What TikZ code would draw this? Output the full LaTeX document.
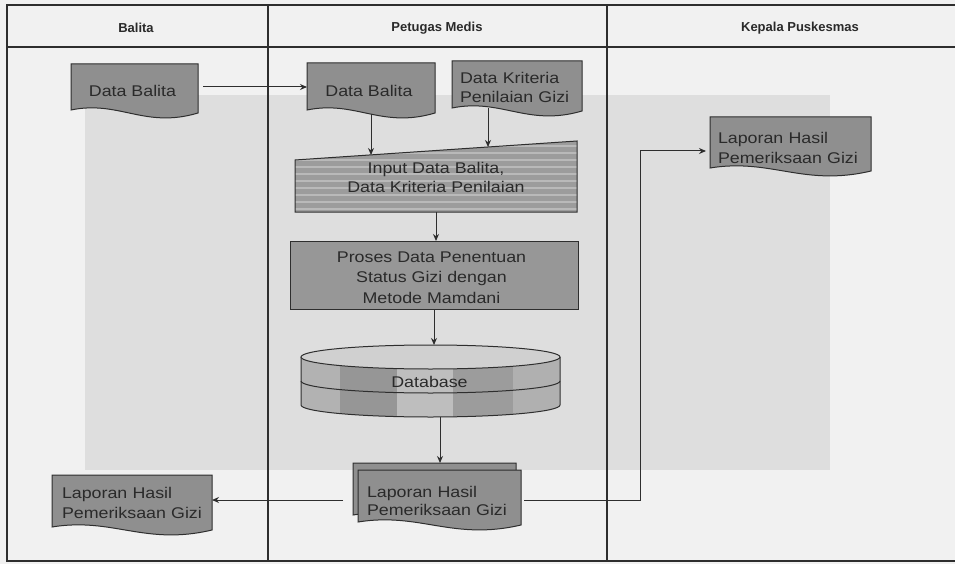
\documentclass[tikz,border=0pt]{standalone}
\usepackage{fontspec}
\setmainfont{Liberation Sans}[FakeStretch=1.15]
\newfontfamily\hdfont{Liberation Sans}
\usetikzlibrary{calc,arrows.meta}
\pgfdeclarelayer{back}
\pgfdeclarelayer{bg}
\pgfsetlayers{back,bg,main}
\definecolor{pagebg}{HTML}{F1F1F1}
\definecolor{blockbg}{HTML}{DEDEDE}
\definecolor{shapefill}{HTML}{8F8F8F}
\definecolor{procfill}{HTML}{979797}
\definecolor{inpfill}{HTML}{9C9C9C}
\definecolor{stripec}{HTML}{B9B9B9}
\definecolor{linec}{HTML}{2E2E2E}
\definecolor{txtc}{HTML}{2A2A2A}
\tikzset{
  lane/.style={draw=linec, line width=1.6pt},
  slot/.style={draw=none, fill=none, inner sep=0pt, outer sep=0pt},
  boxtxt/.style={font=\fontsize{15.5}{18.5}\selectfont, text=txtc, inner sep=0pt},
  hdtxt/.style={font=\hdfont\bfseries\fontsize{13}{15}\selectfont, text=txtc, inner sep=0pt},
  arr/.style={draw=linec, line width=1pt, -{Stealth[length=7pt,width=6pt]}},
  shp/.style={fill=shapefill, draw=linec, line width=1pt},
  outl/.style={draw=linec, line width=1pt},
  stripe/.style={draw=stripec, line width=2.4pt},
}
% document shape around a node, with an offset
\newcommand\docshape[2]{%
  \path[shp] ($(#1.north west)+(#2)$) -- ($(#1.north east)+(#2)$) --
    ($(#1.south east)+(#2)+(0,3)$) .. controls
    ($(#1.south east)!0.42!(#1.south west)+(#2)+(0,19)$) and
    ($(#1.south east)!0.62!(#1.south west)+(#2)+(0,-10)$) ..
    ($(#1.south west)+(#2)$) -- cycle;}
\begin{document}
\begin{tikzpicture}[x=1pt,y=-1pt]
\useasboundingbox (0,0) rectangle (955,564);
\begin{pgfonlayer}{back}
\fill[pagebg] (0,0) rectangle (955,564);
\fill[blockbg] (85,95) rectangle (830,470);
% swimlanes
\draw[lane] (955,5) -- (7,5) -- (7,561) -- (955,561);
\draw[lane] (7,47) -- (955,47);
\draw[lane] (268,5) -- (268,561);
\draw[lane] (607,5) -- (607,561);
\end{pgfonlayer}
\node[hdtxt] (hA) at (136,28) {Balita};
\node[hdtxt] (hB) at (437,28) {Petugas Medis};
\node[hdtxt] (hC) at (800,28) {Kepala Puskesmas};

% nodes
\node[slot, minimum width=127pt, minimum height=46pt,
  label={[boxtxt, xshift=-2pt, yshift=-4pt]center:Data Balita}] (dbA) at (134.5,87) {};
\node[slot, minimum width=128pt, minimum height=47pt,
  label={[boxtxt, xshift=-2pt, yshift=-4.5pt]center:Data Balita}] (dbB) at (371,86.5) {};
\node[slot, minimum width=130pt, minimum height=47pt,
  label={[boxtxt, text width=114pt, align=left, yshift=-3pt]center:{Data Kriteria\\Penilaian Gizi}}] (dk) at (517,84.5) {};
\node[slot, minimum width=282pt, minimum height=71pt,
  label={[boxtxt, align=center, yshift=-1pt]center:{Input Data Balita,\\Data Kriteria Penilaian}}] (inp) at (436,176.5) {};
\node[slot, minimum width=288pt, minimum height=68pt,
  label={[boxtxt, align=center, xshift=-2.5pt, yshift=-2.5pt, font=\fontsize{15.5}{20.5}\selectfont]center:{Proses Data Penentuan\\Status Gizi dengan\\Metode Mamdani}}] (proc) at (434,275) {};
\node[slot, minimum width=259pt, minimum height=72pt,
  label={[boxtxt, xshift=-1pt, yshift=-1pt]center:Database}] (db) at (430.5,381) {};
\node[slot, minimum width=163pt, minimum height=52pt,
  label={[boxtxt, text width=145pt, align=left, yshift=-5pt]center:{Laporan Hasil\\Pemeriksaan Gizi}}] (lapP) at (439.5,496) {};
\node[slot, minimum width=160pt, minimum height=52pt,
  label={[boxtxt, text width=140pt, align=left, yshift=-2pt, font=\fontsize{15.5}{20}\selectfont]center:{Laporan Hasil\\Pemeriksaan Gizi}}] (lapA) at (132,501) {};
\node[slot, minimum width=161pt, minimum height=51pt,
  label={[boxtxt, text width=145pt, align=left, yshift=-5.5pt, font=\fontsize{15.5}{20}\selectfont]center:{Laporan Hasil\\Pemeriksaan Gizi}}] (lapK) at (790.5,142.5) {};

% shapes on background layer
\begin{pgfonlayer}{bg}
  \docshape{dbA}{0,0}
  \docshape{dbB}{0,0}
  \docshape{dk}{0,0}
  \docshape{lapA}{0,0}
  \docshape{lapK}{0,0}
  \docshape{lapP}{-5,-7}
  \docshape{lapP}{0,0}
  % manual input
  \begin{scope}
    \path[clip] ($(inp.north west)+(0,19)$) -- (inp.north east) -- (inp.south east) -- (inp.south west) -- cycle;
    \fill[inpfill] (inp.north west) rectangle (inp.south east);
    \foreach \yy in {146,153,...,212} \draw[stripe] (295,\yy) -- (577,\yy);
  \end{scope}
  \draw[outl] ($(inp.north west)+(0,19)$) -- (inp.north east) -- (inp.south east) -- (inp.south west) -- cycle;
  % process
  \path[outl, fill=procfill] (proc.north west) rectangle (proc.south east);
  % database cylinder
  \begin{scope}
    \path[clip] (301,357) -- (301,405) arc[start angle=180, end angle=360, x radius=129.5pt, y radius=12pt] -- (560,357) -- cycle;
    \fill[fill={rgb,255:red,178;green,178;blue,178}] (301,340) rectangle (340,420);
    \fill[fill={rgb,255:red,150;green,150;blue,150}] (340,340) rectangle (397,420);
    \fill[fill={rgb,255:red,190;green,190;blue,190}] (397,340) rectangle (453,420);
    \fill[fill={rgb,255:red,156;green,156;blue,156}] (453,340) rectangle (513,420);
    \fill[fill={rgb,255:red,176;green,176;blue,176}] (513,340) rectangle (560,420);
  \end{scope}
  \draw[outl] (301,357) -- (301,405) arc[start angle=180, end angle=360, x radius=129.5pt, y radius=12pt] -- (560,357);
  \draw[outl] (301,381) arc[start angle=180, end angle=360, x radius=129.5pt, y radius=12pt];
  \draw[outl, fill={rgb,255:red,208;green,208;blue,208}] (430.5,357) ellipse [x radius=129.5pt, y radius=12pt];
\end{pgfonlayer}

% connectors
\coordinate (inpA) at (371,155);
\coordinate (inpB) at (488,147);
\coordinate (lapPtop) at (440,463);
\coordinate (lapPL) at ($(lapP.west)+(-15,4)$);
\coordinate (lapPR) at ($(lapP.east)+(3,4)$);
\coordinate (lapKL) at ($(lapK.west)+(-4,8.5)$);
\coordinate (turn) at (640,500);
\draw[arr, shorten <=5pt] (dbA.east) -- (dbA.east -| dbB.west);
\draw[arr] ($(dbB.south)+(0,4)$) -- (inpA);
\draw[arr] (dk.south -| inpB) -- (inpB);
\draw[arr] (inp.south) -- (inp.south |- proc.north);
\draw[arr] (proc.south) -- (proc.south |- db.north);
\draw[arr] (db.south -| lapPtop) -- (lapPtop);
\draw[arr] (lapPL) -- (lapPL -| lapA.east);
\draw[arr] (lapPR) -- (lapPR -| turn) |- (lapKL);
\end{tikzpicture}
\end{document}
